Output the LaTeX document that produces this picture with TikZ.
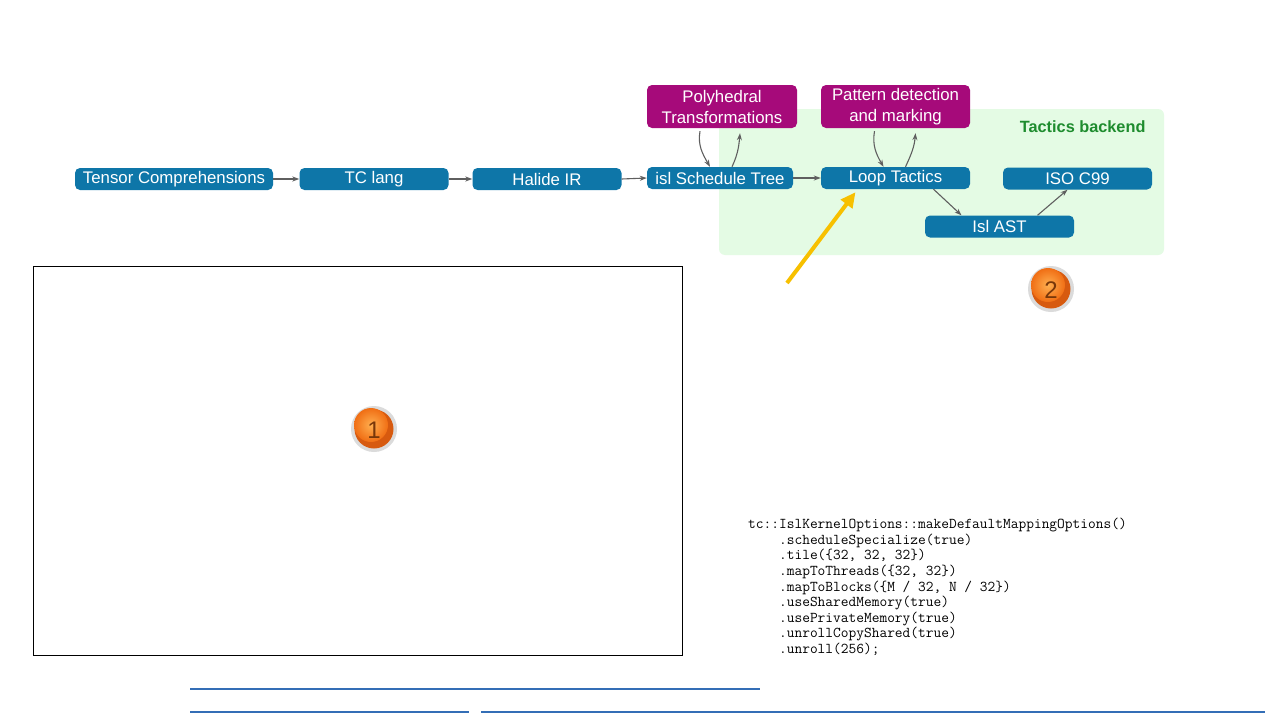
\documentclass[tikz,border=0pt]{standalone}
\usepackage{fontspec}
\setmainfont{Liberation Sans}
\usetikzlibrary{arrows.meta,shadings}
\definecolor{tcblue}{RGB}{14,118,168}
\definecolor{tcmag}{RGB}{166,10,122}
\definecolor{bggreen}{RGB}{228,251,228}
\definecolor{tgreen}{RGB}{30,140,46}
\definecolor{arrgray}{RGB}{95,95,95}
\definecolor{yarrow}{RGB}{247,192,0}
\definecolor{linkblue}{RGB}{52,110,182}
\definecolor{badgelight}{RGB}{255,175,80}
\definecolor{badgeorange}{RGB}{240,110,20}
\definecolor{badgerim}{RGB}{215,90,15}
\definecolor{badgetext}{RGB}{120,55,10}
\tikzset{
  bluebox/.style={fill=tcblue, rounded corners=5pt, text=white, minimum width=149pt, minimum height=22pt, inner sep=0pt, font=\fontsize{16.8}{18}\selectfont},
  magbox/.style={fill=tcmag, rounded corners=5pt, text=white, minimum width=150pt, minimum height=43pt, inner sep=0pt, align=center, font=\fontsize{16.8}{21}\selectfont},
  conn/.style={draw=arrgray, line width=1.1pt, -{Stealth[length=7pt,width=5pt]}},
  badgenum/.style={text=badgetext, font=\fontsize{24}{24}\selectfont},
}
\begin{document}
\begin{tikzpicture}[x=1pt,y=-1pt]
\useasboundingbox (0,0) rectangle (1280,720);
\fill[white] (0,0) rectangle (1280,720);
% green background
\fill[bggreen, rounded corners=6pt] (719,109) rectangle (1164,255);
\node[anchor=east, text=tgreen, font=\bfseries\fontsize{16.3}{18}\selectfont] (tb) at (1149,127) {Tactics backend};
% nodes
\node[bluebox, minimum width=198pt] (tc) at (174,179) {Tensor Comprehensions};
\node[bluebox] (tclang) at (374,179) {TC lang};
\node[bluebox] (halide) at (547,179) {Halide IR};
\node[bluebox, minimum width=146pt] (ist) at (720,178) {isl Schedule Tree};
\node[bluebox] (loop) at (895.5,178) {Loop Tactics};
\node[bluebox] (iso) at (1077.5,178.5) {ISO C99};
\node[bluebox] (ast) at (999.5,226.5) {Isl AST};
\node[magbox] (poly) at (722,106.5) {Polyhedral\\Transformations};
\node[magbox, minimum width=149pt] (pat) at (895.5,106.5) {Pattern detection\\and marking};
% connectors
\draw[conn] (tc.east) -- (tclang.west);
\draw[conn] (tclang.east) -- (halide.west);
\draw[conn] (halide.east) -- (ist.west);
\draw[conn] (ist.east) -- (loop.west);
\draw[conn] ([xshift=-22pt,yshift=-3pt]poly.south) to[out=-100,in=120] ([xshift=-10pt]ist.north);
\draw[conn] ([xshift=12pt]ist.north) to[out=65,in=-95] ([xshift=18pt,yshift=-5pt]poly.south);
\draw[conn] ([xshift=-21pt,yshift=-3pt]pat.south) to[out=-100,in=120] ([xshift=-12pt]loop.north);
\draw[conn] ([xshift=10pt]loop.north) to[out=65,in=-95] ([xshift=20pt,yshift=-5pt]pat.south);
\draw[conn] ([xshift=38pt]loop.south) -- ([xshift=-38pt]ast.north);
\draw[conn] ([xshift=38pt]ast.north) -- ([xshift=-10pt]iso.south);
% yellow arrow
\coordinate (ystart) at (787,283);
\draw[yarrow, line width=4pt, -{Triangle[length=15pt,width=14pt]}] (ystart) -- ([xshift=-40pt,yshift=-3pt]loop.south);
% black frame
\draw[black, line width=1pt] (33,266) rectangle (682,655);
% badges
\foreach \bx/\by/\bn in {374/429/1, 1051/289/2}{
  \fill[gray!40, opacity=0.7] (\bx,\by) circle (23pt);
  \fill[badgerim] (\bx,\by) circle (19.5pt);
  \shade[inner color=badgelight, outer color=badgeorange] (\bx-3,\by-4) circle (17pt);
}
\node[badgenum] (b1) at (374,430) {1};
\node[badgenum] (b2) at (1051,290) {2};
% code
\node[anchor=north west, align=left, inner sep=0pt, font=\ttfamily\fontsize{15}{15.6}\selectfont] (code) at (748,518) {%
tc::IslKernelOptions::makeDefaultMappingOptions()\\
\hphantom{xxxx}.scheduleSpecialize(true)\\
\hphantom{xxxx}.tile(\{32, 32, 32\})\\
\hphantom{xxxx}.mapToThreads(\{32, 32\})\\
\hphantom{xxxx}.mapToBlocks(\{M / 32, N / 32\})\\
\hphantom{xxxx}.useSharedMemory(true)\\
\hphantom{xxxx}.usePrivateMemory(true)\\
\hphantom{xxxx}.unrollCopyShared(true)\\
\hphantom{xxxx}.unroll(256);};
% link underlines
\draw[linkblue, line width=2pt] (190,689) -- (760,689);
\draw[linkblue, line width=2pt] (190,712) -- (469,712);
\draw[linkblue, line width=2pt] (481,712) -- (1265,712);
\end{tikzpicture}
\end{document}
